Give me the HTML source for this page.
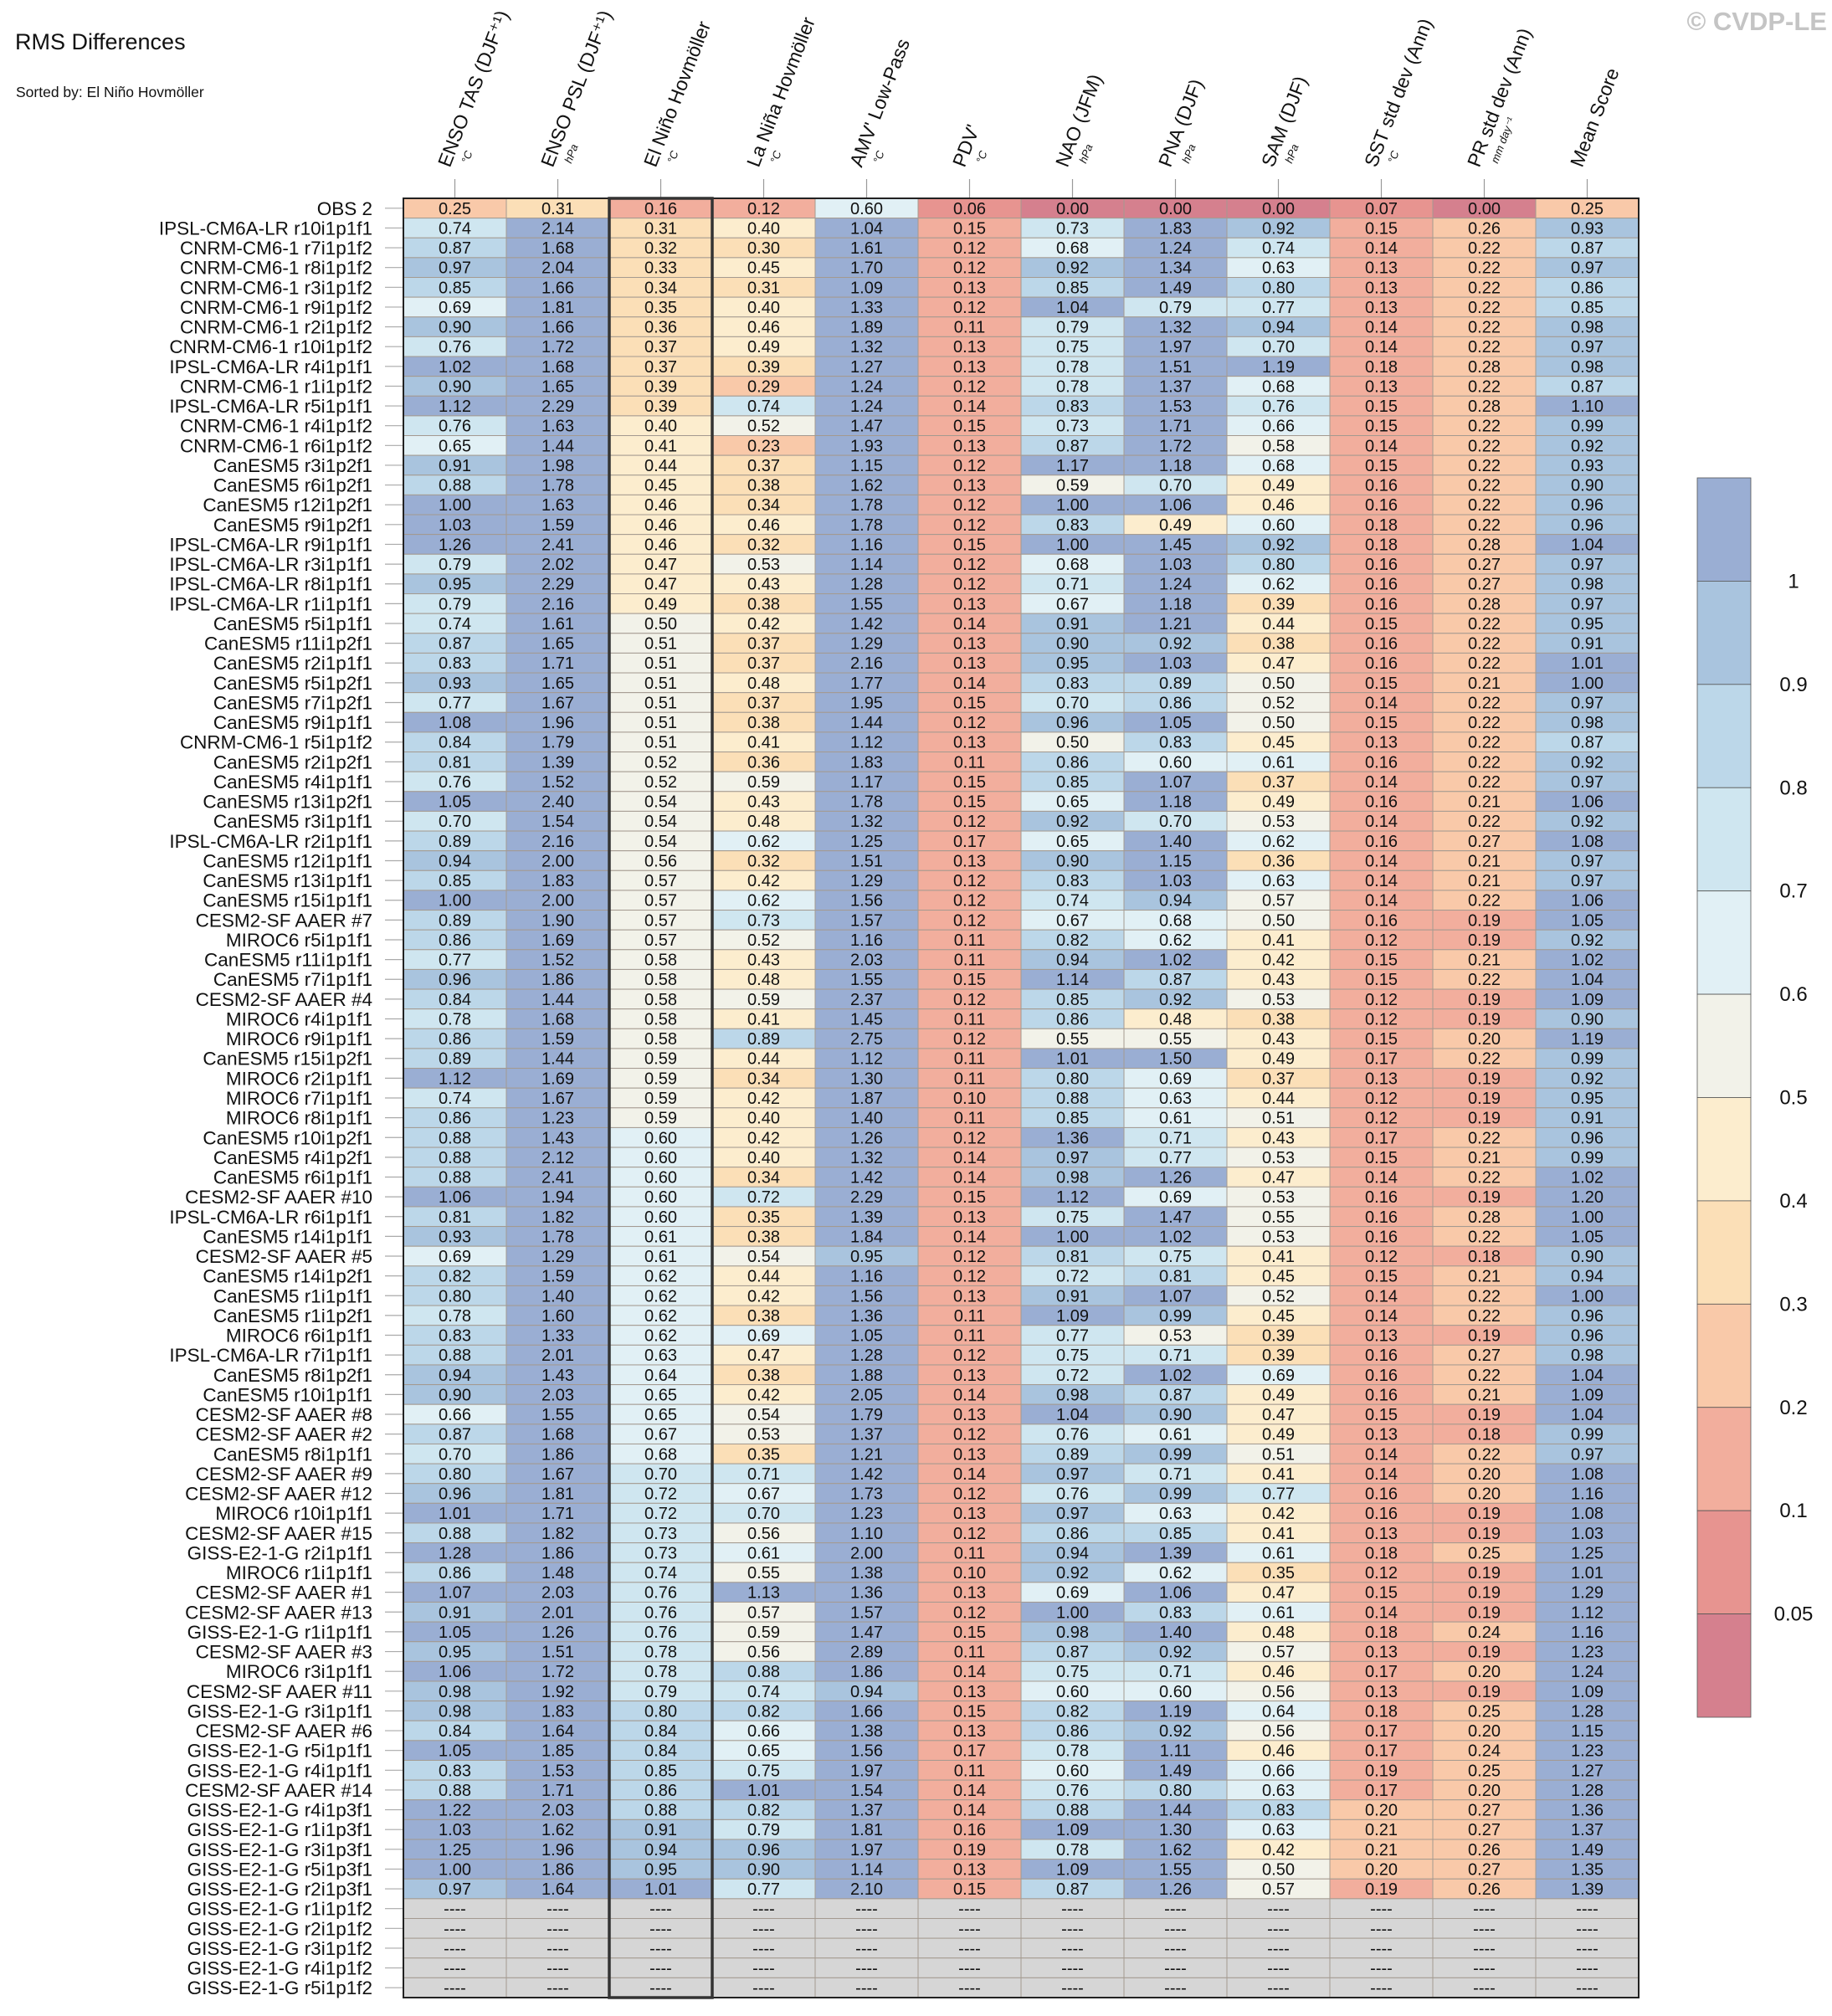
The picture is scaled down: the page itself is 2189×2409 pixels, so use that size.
<!DOCTYPE html>
<html><head><meta charset="utf-8">
<style>
html,body{margin:0;padding:0;background:#fff;}
svg{display:block;font-family:"Liberation Sans",Arial,sans-serif;}
</style></head>
<body>
<svg id="chart" width="2189" height="2409" viewBox="0 0 2189 2409" xmlns="http://www.w3.org/2000/svg">
<text x="18" y="59" font-size="27" fill="#111">RMS Differences</text>
<text x="19" y="116" font-size="17.5" fill="#111">Sorted by: El Niño Hovmöller</text>
<text x="2183" y="36" font-size="31" font-weight="bold" fill="#c4c4c4" text-anchor="end">© CVDP-LE</text>
<g id="headers"></g>
<g id="labels"></g>
<g id="cells"></g>
<g id="cbar"></g>
</svg>
<script>
const columns = ["ENSO TAS (DJF⁺¹)","ENSO PSL (DJF⁺¹)","El Niño Hovmöller","La Niña Hovmöller","AMV' Low-Pass","PDV'","NAO (JFM)","PNA (DJF)","SAM (DJF)","SST std dev (Ann)","PR std dev (Ann)","Mean Score"];
const units = ["°C","hPa","°C","°C","°C","°C","hPa","hPa","hPa","°C","mm day⁻¹",""];
const rowNames = ["OBS 2","IPSL-CM6A-LR r10i1p1f1","CNRM-CM6-1 r7i1p1f2","CNRM-CM6-1 r8i1p1f2","CNRM-CM6-1 r3i1p1f2","CNRM-CM6-1 r9i1p1f2","CNRM-CM6-1 r2i1p1f2","CNRM-CM6-1 r10i1p1f2","IPSL-CM6A-LR r4i1p1f1","CNRM-CM6-1 r1i1p1f2","IPSL-CM6A-LR r5i1p1f1","CNRM-CM6-1 r4i1p1f2","CNRM-CM6-1 r6i1p1f2","CanESM5 r3i1p2f1","CanESM5 r6i1p2f1","CanESM5 r12i1p2f1","CanESM5 r9i1p2f1","IPSL-CM6A-LR r9i1p1f1","IPSL-CM6A-LR r3i1p1f1","IPSL-CM6A-LR r8i1p1f1","IPSL-CM6A-LR r1i1p1f1","CanESM5 r5i1p1f1","CanESM5 r11i1p2f1","CanESM5 r2i1p1f1","CanESM5 r5i1p2f1","CanESM5 r7i1p2f1","CanESM5 r9i1p1f1","CNRM-CM6-1 r5i1p1f2","CanESM5 r2i1p2f1","CanESM5 r4i1p1f1","CanESM5 r13i1p2f1","CanESM5 r3i1p1f1","IPSL-CM6A-LR r2i1p1f1","CanESM5 r12i1p1f1","CanESM5 r13i1p1f1","CanESM5 r15i1p1f1","CESM2-SF AAER #7","MIROC6 r5i1p1f1","CanESM5 r11i1p1f1","CanESM5 r7i1p1f1","CESM2-SF AAER #4","MIROC6 r4i1p1f1","MIROC6 r9i1p1f1","CanESM5 r15i1p2f1","MIROC6 r2i1p1f1","MIROC6 r7i1p1f1","MIROC6 r8i1p1f1","CanESM5 r10i1p2f1","CanESM5 r4i1p2f1","CanESM5 r6i1p1f1","CESM2-SF AAER #10","IPSL-CM6A-LR r6i1p1f1","CanESM5 r14i1p1f1","CESM2-SF AAER #5","CanESM5 r14i1p2f1","CanESM5 r1i1p1f1","CanESM5 r1i1p2f1","MIROC6 r6i1p1f1","IPSL-CM6A-LR r7i1p1f1","CanESM5 r8i1p2f1","CanESM5 r10i1p1f1","CESM2-SF AAER #8","CESM2-SF AAER #2","CanESM5 r8i1p1f1","CESM2-SF AAER #9","CESM2-SF AAER #12","MIROC6 r10i1p1f1","CESM2-SF AAER #15","GISS-E2-1-G r2i1p1f1","MIROC6 r1i1p1f1","CESM2-SF AAER #1","CESM2-SF AAER #13","GISS-E2-1-G r1i1p1f1","CESM2-SF AAER #3","MIROC6 r3i1p1f1","CESM2-SF AAER #11","GISS-E2-1-G r3i1p1f1","CESM2-SF AAER #6","GISS-E2-1-G r5i1p1f1","GISS-E2-1-G r4i1p1f1","CESM2-SF AAER #14","GISS-E2-1-G r4i1p3f1","GISS-E2-1-G r1i1p3f1","GISS-E2-1-G r3i1p3f1","GISS-E2-1-G r5i1p3f1","GISS-E2-1-G r2i1p3f1","GISS-E2-1-G r1i1p1f2","GISS-E2-1-G r2i1p1f2","GISS-E2-1-G r3i1p1f2","GISS-E2-1-G r4i1p1f2","GISS-E2-1-G r5i1p1f2"];
const values = [
[.25,.31,.16,.12,.60,.06,.00,.00,.00,.07,.00,.25],
[.74,2.14,.31,.40,1.04,.15,.73,1.83,.92,.15,.26,.93],
[.87,1.68,.32,.30,1.61,.12,.68,1.24,.74,.14,.22,.87],
[.97,2.04,.33,.45,1.70,.12,.92,1.34,.63,.13,.22,.97],
[.85,1.66,.34,.31,1.09,.13,.85,1.49,.80,.13,.22,.86],
[.69,1.81,.35,.40,1.33,.12,1.04,.79,.77,.13,.22,.85],
[.90,1.66,.36,.46,1.89,.11,.79,1.32,.94,.14,.22,.98],
[.76,1.72,.37,.49,1.32,.13,.75,1.97,.70,.14,.22,.97],
[1.02,1.68,.37,.39,1.27,.13,.78,1.51,1.19,.18,.28,.98],
[.90,1.65,.39,.29,1.24,.12,.78,1.37,.68,.13,.22,.87],
[1.12,2.29,.39,.74,1.24,.14,.83,1.53,.76,.15,.28,1.10],
[.76,1.63,.40,.52,1.47,.15,.73,1.71,.66,.15,.22,.99],
[.65,1.44,.41,.23,1.93,.13,.87,1.72,.58,.14,.22,.92],
[.91,1.98,.44,.37,1.15,.12,1.17,1.18,.68,.15,.22,.93],
[.88,1.78,.45,.38,1.62,.13,.59,.70,.49,.16,.22,.90],
[1.00,1.63,.46,.34,1.78,.12,1.00,1.06,.46,.16,.22,.96],
[1.03,1.59,.46,.46,1.78,.12,.83,.49,.60,.18,.22,.96],
[1.26,2.41,.46,.32,1.16,.15,1.00,1.45,.92,.18,.28,1.04],
[.79,2.02,.47,.53,1.14,.12,.68,1.03,.80,.16,.27,.97],
[.95,2.29,.47,.43,1.28,.12,.71,1.24,.62,.16,.27,.98],
[.79,2.16,.49,.38,1.55,.13,.67,1.18,.39,.16,.28,.97],
[.74,1.61,.50,.42,1.42,.14,.91,1.21,.44,.15,.22,.95],
[.87,1.65,.51,.37,1.29,.13,.90,.92,.38,.16,.22,.91],
[.83,1.71,.51,.37,2.16,.13,.95,1.03,.47,.16,.22,1.01],
[.93,1.65,.51,.48,1.77,.14,.83,.89,.50,.15,.21,1.00],
[.77,1.67,.51,.37,1.95,.15,.70,.86,.52,.14,.22,.97],
[1.08,1.96,.51,.38,1.44,.12,.96,1.05,.50,.15,.22,.98],
[.84,1.79,.51,.41,1.12,.13,.50,.83,.45,.13,.22,.87],
[.81,1.39,.52,.36,1.83,.11,.86,.60,.61,.16,.22,.92],
[.76,1.52,.52,.59,1.17,.15,.85,1.07,.37,.14,.22,.97],
[1.05,2.40,.54,.43,1.78,.15,.65,1.18,.49,.16,.21,1.06],
[.70,1.54,.54,.48,1.32,.12,.92,.70,.53,.14,.22,.92],
[.89,2.16,.54,.62,1.25,.17,.65,1.40,.62,.16,.27,1.08],
[.94,2.00,.56,.32,1.51,.13,.90,1.15,.36,.14,.21,.97],
[.85,1.83,.57,.42,1.29,.12,.83,1.03,.63,.14,.21,.97],
[1.00,2.00,.57,.62,1.56,.12,.74,.94,.57,.14,.22,1.06],
[.89,1.90,.57,.73,1.57,.12,.67,.68,.50,.16,.19,1.05],
[.86,1.69,.57,.52,1.16,.11,.82,.62,.41,.12,.19,.92],
[.77,1.52,.58,.43,2.03,.11,.94,1.02,.42,.15,.21,1.02],
[.96,1.86,.58,.48,1.55,.15,1.14,.87,.43,.15,.22,1.04],
[.84,1.44,.58,.59,2.37,.12,.85,.92,.53,.12,.19,1.09],
[.78,1.68,.58,.41,1.45,.11,.86,.48,.38,.12,.19,.90],
[.86,1.59,.58,.89,2.75,.12,.55,.55,.43,.15,.20,1.19],
[.89,1.44,.59,.44,1.12,.11,1.01,1.50,.49,.17,.22,.99],
[1.12,1.69,.59,.34,1.30,.11,.80,.69,.37,.13,.19,.92],
[.74,1.67,.59,.42,1.87,.10,.88,.63,.44,.12,.19,.95],
[.86,1.23,.59,.40,1.40,.11,.85,.61,.51,.12,.19,.91],
[.88,1.43,.60,.42,1.26,.12,1.36,.71,.43,.17,.22,.96],
[.88,2.12,.60,.40,1.32,.14,.97,.77,.53,.15,.21,.99],
[.88,2.41,.60,.34,1.42,.14,.98,1.26,.47,.14,.22,1.02],
[1.06,1.94,.60,.72,2.29,.15,1.12,.69,.53,.16,.19,1.20],
[.81,1.82,.60,.35,1.39,.13,.75,1.47,.55,.16,.28,1.00],
[.93,1.78,.61,.38,1.84,.14,1.00,1.02,.53,.16,.22,1.05],
[.69,1.29,.61,.54,.95,.12,.81,.75,.41,.12,.18,.90],
[.82,1.59,.62,.44,1.16,.12,.72,.81,.45,.15,.21,.94],
[.80,1.40,.62,.42,1.56,.13,.91,1.07,.52,.14,.22,1.00],
[.78,1.60,.62,.38,1.36,.11,1.09,.99,.45,.14,.22,.96],
[.83,1.33,.62,.69,1.05,.11,.77,.53,.39,.13,.19,.96],
[.88,2.01,.63,.47,1.28,.12,.75,.71,.39,.16,.27,.98],
[.94,1.43,.64,.38,1.88,.13,.72,1.02,.69,.16,.22,1.04],
[.90,2.03,.65,.42,2.05,.14,.98,.87,.49,.16,.21,1.09],
[.66,1.55,.65,.54,1.79,.13,1.04,.90,.47,.15,.19,1.04],
[.87,1.68,.67,.53,1.37,.12,.76,.61,.49,.13,.18,.99],
[.70,1.86,.68,.35,1.21,.13,.89,.99,.51,.14,.22,.97],
[.80,1.67,.70,.71,1.42,.14,.97,.71,.41,.14,.20,1.08],
[.96,1.81,.72,.67,1.73,.12,.76,.99,.77,.16,.20,1.16],
[1.01,1.71,.72,.70,1.23,.13,.97,.63,.42,.16,.19,1.08],
[.88,1.82,.73,.56,1.10,.12,.86,.85,.41,.13,.19,1.03],
[1.28,1.86,.73,.61,2.00,.11,.94,1.39,.61,.18,.25,1.25],
[.86,1.48,.74,.55,1.38,.10,.92,.62,.35,.12,.19,1.01],
[1.07,2.03,.76,1.13,1.36,.13,.69,1.06,.47,.15,.19,1.29],
[.91,2.01,.76,.57,1.57,.12,1.00,.83,.61,.14,.19,1.12],
[1.05,1.26,.76,.59,1.47,.15,.98,1.40,.48,.18,.24,1.16],
[.95,1.51,.78,.56,2.89,.11,.87,.92,.57,.13,.19,1.23],
[1.06,1.72,.78,.88,1.86,.14,.75,.71,.46,.17,.20,1.24],
[.98,1.92,.79,.74,.94,.13,.60,.60,.56,.13,.19,1.09],
[.98,1.83,.80,.82,1.66,.15,.82,1.19,.64,.18,.25,1.28],
[.84,1.64,.84,.66,1.38,.13,.86,.92,.56,.17,.20,1.15],
[1.05,1.85,.84,.65,1.56,.17,.78,1.11,.46,.17,.24,1.23],
[.83,1.53,.85,.75,1.97,.11,.60,1.49,.66,.19,.25,1.27],
[.88,1.71,.86,1.01,1.54,.14,.76,.80,.63,.17,.20,1.28],
[1.22,2.03,.88,.82,1.37,.14,.88,1.44,.83,.20,.27,1.36],
[1.03,1.62,.91,.79,1.81,.16,1.09,1.30,.63,.21,.27,1.37],
[1.25,1.96,.94,.96,1.97,.19,.78,1.62,.42,.21,.26,1.49],
[1.00,1.86,.95,.90,1.14,.13,1.09,1.55,.50,.20,.27,1.35],
[.97,1.64,1.01,.77,2.10,.15,.87,1.26,.57,.19,.26,1.39],
null,null,null,null,null];
const levels = [1,0.9,0.8,0.7,0.6,0.5,0.4,0.3,0.2,0.1,0.05];
const levelLabels = ["1","0.9","0.8","0.7","0.6","0.5","0.4","0.3","0.2","0.1","0.05"];
const palette = ["#9aaed3","#a9c4de","#bcd7e9","#cfe6f0","#e1f0f5","#f2f2e9","#fcedce","#fbdfb7","#f9c9a9","#f2ae9d","#e79490","#d5808e"];

const NS="http://www.w3.org/2000/svg";
const X0=482, COLW=123, Y0=237, ROWH=(2387-237)/91;
const colX = c => X0 + c*COLW;
const rowY = r => Y0 + r*ROWH;
function colorFor(v){ for(let i=0;i<levels.length;i++){ if(v>=levels[i]) return palette[i]; } return palette[palette.length-1]; }
function mk(tag, attrs, parent, txt){ const e=document.createElementNS(NS,tag); for(const k in attrs) e.setAttribute(k,attrs[k]); if(txt!==undefined) e.textContent=txt; parent.appendChild(e); return e; }

const gH=document.getElementById('headers'), gL=document.getElementById('labels'), gC=document.getElementById('cells'), gB=document.getElementById('cbar');

columns.forEach((name,c)=>{
  const cx = colX(c)+COLW/2;
  const t = mk('text',{x:0,y:0,'font-size':23,fill:'#111',transform:`translate(${cx-6},${201}) rotate(-69)`},gH,name);
  
  
  if(units[c]){
    const u = mk('text',{x:0,y:0,'font-size':13,'font-style':'italic',fill:'#111',transform:`translate(${cx+16},${196}) rotate(-69)`},gH,units[c]);
    
    
  }
  const tk = mk('line',{x1:cx,x2:cx,y1:214,y2:Y0,stroke:'#999','stroke-width':1.2},gH);
  
  
});

rowNames.forEach((name,r)=>{
  const cy = rowY(r)+ROWH/2;
  const t = mk('text',{x:445,y:cy+8,'font-size':22.5,'text-anchor':'end',fill:'#111'},gL,name);
  
  
  const tk = mk('line',{x1:460,x2:X0,y1:cy,y2:cy,stroke:'#aaa','stroke-width':1.2},gL);
  
  
  const row = values[r];
  columns.forEach((_,c)=>{
    const v = row ? row[c] : null;
    const rect = mk('rect',{x:colX(c),y:rowY(r),width:COLW,height:ROWH,fill: v===null?'#d6d6d6':colorFor(v),stroke:'#a49a90','stroke-width':1},gC);
    
    
    const tx = mk('text',{x:colX(c)+COLW/2,y:rowY(r)+ROWH/2+7,'font-size':20,'text-anchor':'middle',fill:'#111'},gC, v===null?'----':v.toFixed(2));
    
    
  });
});
const border = mk('rect',{x:X0,y:Y0,width:COLW*12,height:ROWH*91,fill:'none',stroke:'#222','stroke-width':2},gC);


const hl = mk('rect',{x:colX(2),y:Y0,width:COLW,height:ROWH*91,fill:'none',stroke:'#333','stroke-width':3.5},gC);



const CBX=2028, CBW=64, CBY=571, CBH=2052-571, seg=CBH/palette.length;
palette.forEach((col,i)=>{
  const r = mk('rect',{x:CBX,y:CBY+i*seg,width:CBW,height:seg,fill:col,stroke:'#555','stroke-width':0.8},gB);
  
  
});
levelLabels.forEach((lab,i)=>{
  const t = mk('text',{x:2143,y:CBY+(i+1)*seg+8,'font-size':24,'text-anchor':'middle',fill:'#111'},gB,lab);
  
  
});
</script>
</body></html>
